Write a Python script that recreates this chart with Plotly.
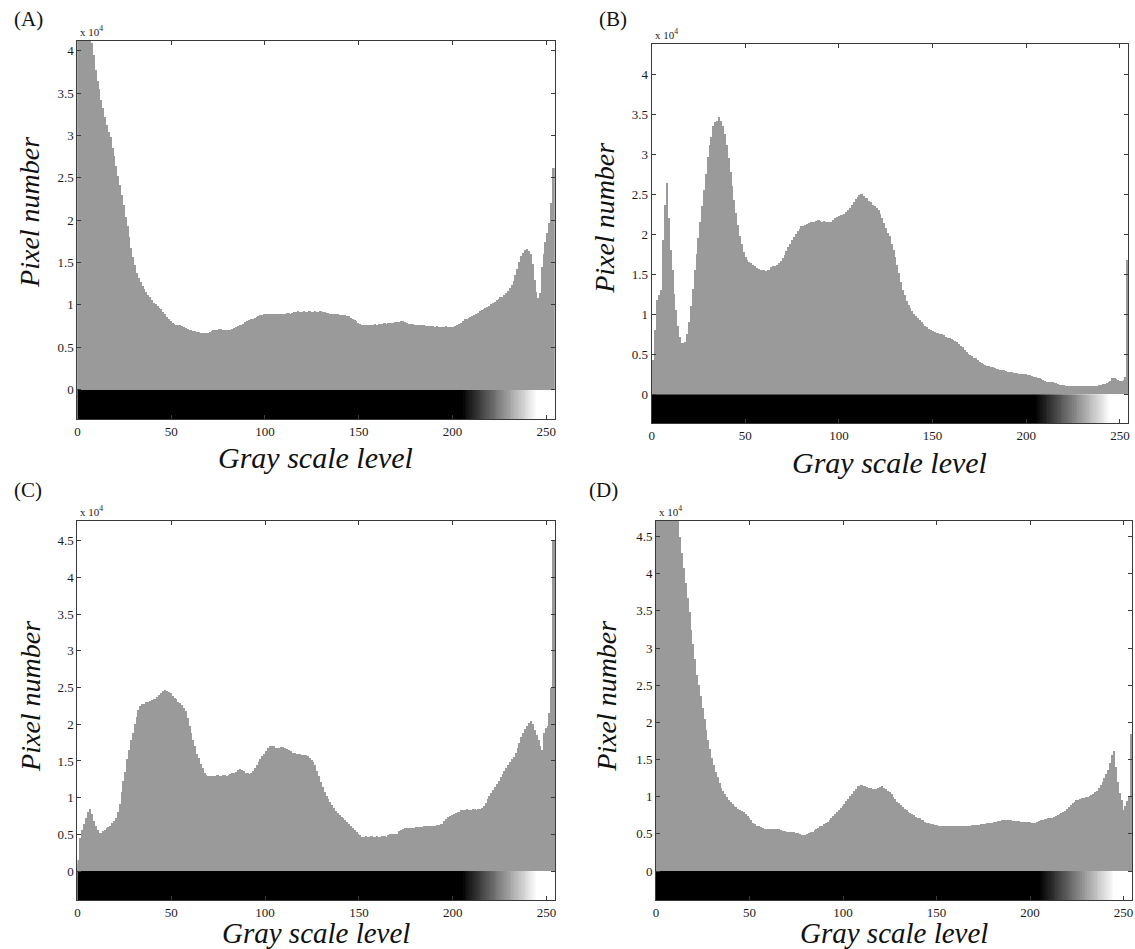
import plotly.graph_objects as go

W, H = 1135, 949

levels = list(range(256))

# Pixel counts (x 10^4) per gray level
counts_A = [
    4.60, 4.50, 4.50, 4.40, 4.40, 4.30, 4.25, 4.20, 4.10, 3.95, 3.78, 3.65, 3.55, 3.42, 3.33, 3.22,
    3.13, 3.05, 2.98, 2.86, 2.76, 2.64, 2.52, 2.42, 2.30, 2.18, 2.04, 1.93, 1.80, 1.68, 1.57, 1.47,
    1.38, 1.32, 1.27, 1.23, 1.19, 1.15, 1.12, 1.09, 1.06, 1.03, 1.01, 0.99, 0.97, 0.95, 0.92, 0.89,
    0.86, 0.83, 0.81, 0.79, 0.78, 0.77, 0.76, 0.76, 0.75, 0.74, 0.73, 0.72, 0.71, 0.70, 0.69, 0.69,
    0.68, 0.68, 0.67, 0.67, 0.67, 0.67, 0.67, 0.68, 0.69, 0.70, 0.70, 0.71, 0.72, 0.72, 0.71, 0.71,
    0.70, 0.70, 0.71, 0.72, 0.73, 0.74, 0.75, 0.76, 0.77, 0.78, 0.80, 0.81, 0.82, 0.83, 0.84, 0.85,
    0.86, 0.87, 0.88, 0.88, 0.89, 0.89, 0.89, 0.90, 0.89, 0.89, 0.90, 0.89, 0.89, 0.90, 0.90, 0.90,
    0.91, 0.91, 0.90, 0.91, 0.92, 0.92, 0.93, 0.92, 0.92, 0.93, 0.92, 0.92, 0.93, 0.92, 0.92, 0.93,
    0.92, 0.92, 0.93, 0.92, 0.92, 0.91, 0.91, 0.90, 0.90, 0.89, 0.89, 0.89, 0.88, 0.88, 0.88, 0.88,
    0.87, 0.87, 0.85, 0.84, 0.82, 0.81, 0.79, 0.78, 0.77, 0.77, 0.77, 0.77, 0.76, 0.77, 0.77, 0.78,
    0.77, 0.78, 0.78, 0.78, 0.79, 0.78, 0.79, 0.79, 0.79, 0.79, 0.80, 0.80, 0.80, 0.81, 0.81, 0.80,
    0.79, 0.78, 0.78, 0.78, 0.77, 0.77, 0.77, 0.76, 0.76, 0.76, 0.75, 0.75, 0.75, 0.75, 0.75, 0.74,
    0.75, 0.74, 0.74, 0.74, 0.74, 0.75, 0.74, 0.74, 0.74, 0.74, 0.75, 0.76, 0.78, 0.79, 0.81, 0.83,
    0.84, 0.85, 0.86, 0.87, 0.88, 0.90, 0.91, 0.93, 0.94, 0.95, 0.96, 0.98, 0.99, 1.01, 1.03, 1.04,
    1.06, 1.07, 1.09, 1.10, 1.12, 1.14, 1.17, 1.20, 1.24, 1.29, 1.36, 1.43, 1.51, 1.58, 1.62, 1.65,
    1.66, 1.64, 1.60, 1.48, 1.30, 1.15, 1.08, 1.14, 1.45, 1.60, 1.75, 1.85, 1.97, 2.20, 2.62, 2.62,
]

counts_B = [
    0.40, 0.43, 0.80, 1.18, 1.24, 1.30, 1.93, 2.37, 2.64, 2.20, 1.80, 1.55, 1.25, 1.05, 0.85, 0.72,
    0.64, 0.64, 0.66, 0.75, 0.90, 1.10, 1.32, 1.55, 1.75, 1.95, 2.15, 2.35, 2.55, 2.75, 2.97, 3.12,
    3.22, 3.35, 3.40, 3.42, 3.47, 3.42, 3.36, 3.26, 3.12, 2.95, 2.78, 2.60, 2.43, 2.27, 2.12, 1.98,
    1.88, 1.78, 1.72, 1.68, 1.66, 1.64, 1.62, 1.60, 1.58, 1.57, 1.56, 1.55, 1.55, 1.54, 1.55, 1.56,
    1.59, 1.60, 1.61, 1.62, 1.64, 1.67, 1.70, 1.74, 1.79, 1.84, 1.88, 1.93, 1.97, 2.01, 2.04, 2.07,
    2.10, 2.11, 2.12, 2.13, 2.14, 2.15, 2.16, 2.16, 2.17, 2.18, 2.17, 2.16, 2.17, 2.16, 2.15, 2.16,
    2.16, 2.18, 2.21, 2.22, 2.23, 2.24, 2.24, 2.26, 2.28, 2.30, 2.33, 2.37, 2.41, 2.44, 2.47, 2.49,
    2.50, 2.48, 2.46, 2.45, 2.42, 2.40, 2.37, 2.35, 2.33, 2.30, 2.25, 2.20, 2.14, 2.08, 2.02, 1.98,
    1.88, 1.80, 1.72, 1.62, 1.52, 1.40, 1.30, 1.24, 1.17, 1.12, 1.08, 1.04, 1.01, 0.98, 0.95, 0.93,
    0.90, 0.88, 0.86, 0.84, 0.82, 0.80, 0.79, 0.78, 0.77, 0.77, 0.76, 0.75, 0.74, 0.72, 0.71, 0.70,
    0.69, 0.68, 0.67, 0.65, 0.63, 0.61, 0.59, 0.56, 0.53, 0.51, 0.49, 0.48, 0.46, 0.45, 0.43, 0.41,
    0.39, 0.38, 0.37, 0.36, 0.35, 0.34, 0.34, 0.33, 0.32, 0.32, 0.31, 0.30, 0.30, 0.29, 0.28, 0.28,
    0.28, 0.27, 0.27, 0.27, 0.26, 0.26, 0.26, 0.25, 0.25, 0.24, 0.24, 0.23, 0.22, 0.22, 0.21, 0.20,
    0.19, 0.18, 0.17, 0.16, 0.16, 0.15, 0.15, 0.14, 0.14, 0.13, 0.12, 0.12, 0.12, 0.11, 0.11, 0.11,
    0.11, 0.11, 0.11, 0.10, 0.10, 0.10, 0.10, 0.10, 0.10, 0.10, 0.10, 0.11, 0.11, 0.11, 0.11, 0.12,
    0.12, 0.13, 0.13, 0.14, 0.15, 0.17, 0.20, 0.20, 0.19, 0.18, 0.17, 0.17, 0.18, 0.22, 1.68, 1.68,
]

counts_C = [
    0.10, 0.15, 0.45, 0.56, 0.64, 0.72, 0.80, 0.85, 0.78, 0.68, 0.62, 0.56, 0.52, 0.52, 0.54, 0.56,
    0.58, 0.60, 0.62, 0.65, 0.68, 0.72, 0.80, 0.92, 1.08, 1.22, 1.35, 1.52, 1.65, 1.78, 1.88, 2.00,
    2.10, 2.20, 2.25, 2.27, 2.28, 2.30, 2.31, 2.32, 2.33, 2.34, 2.35, 2.37, 2.40, 2.43, 2.45, 2.47,
    2.46, 2.44, 2.42, 2.38, 2.36, 2.34, 2.31, 2.29, 2.26, 2.22, 2.18, 2.08, 1.98, 1.88, 1.78, 1.70,
    1.60, 1.54, 1.46, 1.40, 1.34, 1.31, 1.30, 1.30, 1.29, 1.30, 1.30, 1.31, 1.30, 1.30, 1.31, 1.31,
    1.30, 1.31, 1.32, 1.33, 1.33, 1.35, 1.38, 1.39, 1.38, 1.36, 1.34, 1.33, 1.32, 1.33, 1.36, 1.40,
    1.44, 1.49, 1.53, 1.57, 1.60, 1.63, 1.67, 1.70, 1.71, 1.70, 1.68, 1.67, 1.68, 1.69, 1.69, 1.68,
    1.66, 1.65, 1.63, 1.61, 1.61, 1.60, 1.60, 1.59, 1.58, 1.58, 1.58, 1.57, 1.54, 1.51, 1.48, 1.44,
    1.36, 1.29, 1.21, 1.14, 1.08, 1.02, 0.98, 0.94, 0.90, 0.86, 0.82, 0.79, 0.77, 0.74, 0.72, 0.70,
    0.67, 0.64, 0.62, 0.59, 0.56, 0.53, 0.51, 0.49, 0.47, 0.47, 0.48, 0.47, 0.47, 0.48, 0.47, 0.47,
    0.48, 0.47, 0.47, 0.48, 0.48, 0.47, 0.49, 0.50, 0.50, 0.50, 0.50, 0.51, 0.54, 0.56, 0.57, 0.58,
    0.58, 0.58, 0.59, 0.59, 0.59, 0.60, 0.60, 0.60, 0.60, 0.61, 0.61, 0.61, 0.61, 0.62, 0.62, 0.62,
    0.63, 0.63, 0.64, 0.64, 0.68, 0.71, 0.73, 0.75, 0.76, 0.78, 0.79, 0.80, 0.81, 0.83, 0.83, 0.83,
    0.84, 0.83, 0.83, 0.84, 0.84, 0.83, 0.84, 0.84, 0.86, 0.88, 0.93, 0.98, 1.02, 1.07, 1.11, 1.15,
    1.19, 1.23, 1.28, 1.32, 1.36, 1.41, 1.44, 1.48, 1.52, 1.56, 1.61, 1.67, 1.74, 1.82, 1.88, 1.93,
    1.98, 2.02, 2.05, 2.00, 1.92, 1.86, 1.79, 1.70, 1.65, 1.88, 1.95, 1.98, 2.15, 2.50, 4.50, 4.50,
]

counts_D = [
    5.20, 5.10, 5.00, 5.00, 4.95, 4.90, 4.90, 4.85, 4.85, 4.80, 4.80, 4.78, 4.75, 4.50, 4.28, 4.08,
    3.88, 3.68, 3.48, 3.25, 3.05, 2.85, 2.64, 2.50, 2.36, 2.20, 2.05, 1.90, 1.76, 1.64, 1.52, 1.42,
    1.33, 1.26, 1.18, 1.12, 1.08, 1.03, 0.99, 0.96, 0.93, 0.90, 0.88, 0.86, 0.84, 0.82, 0.81, 0.79,
    0.77, 0.74, 0.71, 0.68, 0.65, 0.63, 0.61, 0.60, 0.59, 0.58, 0.57, 0.57, 0.57, 0.56, 0.56, 0.56,
    0.57, 0.57, 0.56, 0.55, 0.54, 0.54, 0.53, 0.53, 0.53, 0.52, 0.52, 0.51, 0.51, 0.50, 0.49, 0.49,
    0.49, 0.50, 0.51, 0.52, 0.53, 0.55, 0.56, 0.58, 0.60, 0.61, 0.63, 0.65, 0.66, 0.69, 0.71, 0.74,
    0.77, 0.79, 0.82, 0.85, 0.87, 0.90, 0.94, 0.97, 1.01, 1.04, 1.08, 1.11, 1.14, 1.15, 1.16, 1.15,
    1.14, 1.13, 1.12, 1.12, 1.11, 1.11, 1.11, 1.12, 1.13, 1.14, 1.12, 1.10, 1.08, 1.06, 1.03, 1.00,
    0.97, 0.93, 0.91, 0.89, 0.86, 0.84, 0.82, 0.80, 0.78, 0.77, 0.75, 0.73, 0.72, 0.71, 0.69, 0.68,
    0.66, 0.65, 0.64, 0.63, 0.63, 0.62, 0.62, 0.61, 0.61, 0.61, 0.60, 0.60, 0.60, 0.60, 0.60, 0.60,
    0.60, 0.60, 0.60, 0.61, 0.61, 0.61, 0.61, 0.61, 0.61, 0.62, 0.62, 0.62, 0.62, 0.62, 0.63, 0.63,
    0.63, 0.64, 0.64, 0.65, 0.65, 0.66, 0.66, 0.67, 0.67, 0.68, 0.68, 0.68, 0.68, 0.68, 0.68, 0.67,
    0.67, 0.67, 0.67, 0.66, 0.66, 0.66, 0.66, 0.66, 0.66, 0.65, 0.65, 0.65, 0.66, 0.67, 0.68, 0.69,
    0.70, 0.70, 0.71, 0.72, 0.72, 0.73, 0.74, 0.75, 0.77, 0.78, 0.80, 0.81, 0.83, 0.86, 0.89, 0.91,
    0.93, 0.95, 0.96, 0.97, 0.98, 0.98, 0.99, 1.00, 1.01, 1.02, 1.04, 1.06, 1.08, 1.12, 1.16, 1.20,
    1.25, 1.30, 1.36, 1.46, 1.56, 1.61, 1.40, 1.20, 1.05, 0.95, 0.82, 0.88, 0.94, 1.00, 1.85, 1.85,
]

panel_labels = ["(A)", "(B)", "(C)", "(D)"]
x_ticks = [0, 50, 100, 150, 200, 250]
y_ticks_A = [0, 0.5, 1, 1.5, 2, 2.5, 3, 3.5, 4]
y_ticks_B = [0, 0.5, 1, 1.5, 2, 2.5, 3, 3.5, 4]
y_ticks_C = [0, 0.5, 1, 1.5, 2, 2.5, 3, 3.5, 4, 4.5]
y_ticks_D = [0, 0.5, 1, 1.5, 2, 2.5, 3, 3.5, 4, 4.5]

# Gray-scale colour bar stops (gray level, shade)
bar_stops = [(0, 0.0), (205, 0.0), (245, 1.0), (255, 1.0)]

# layout geometry in page pixels: (left, right, top, bottom), y range
panels = [
    dict(counts=counts_A, box=(74.7, 553.7, 40.7, 419.0), yr=(-0.35, 4.12), yt=y_ticks_A,
         lab=(9, 19), exp=(75, 31), ylab=(27, 212), xlab=(314, 457)),
    dict(counts=counts_B, box=(651.0, 1129.3, 44.0, 423.3), yr=(-0.3625, 4.38), yt=y_ticks_B,
         lab=(596, 19), exp=(652, 34), ylab=(604, 218), xlab=(890, 462)),
    dict(counts=counts_C, box=(74.7, 554.0, 521.0, 900.0), yr=(-0.395, 4.77), yt=y_ticks_C,
         lab=(9, 490), exp=(75, 511), ylab=(27, 696), xlab=(314, 933)),
    dict(counts=counts_D, box=(655.3, 1133.0, 521.0, 900.0), yr=(-0.39, 4.71), yt=y_ticks_D,
         lab=(586, 490), exp=(656, 511), ylab=(605, 696), xlab=(894, 933)),
]


def px(x):
    return x / W


def py(y):
    return 1 - y / H


SERIF = "Liberation Serif"
colorscale = [[s / 255.0, f"rgb({int(v*255)},{int(v*255)},{int(v*255)})"] for s, v in bar_stops]

fig = go.Figure()
annotations = []
layout_axes = {}

for i, p in enumerate(panels):
    n = "" if i == 0 else str(i + 1)
    xa, ya = "x" + n, "y" + n
    l, r, t, b = p["box"]
    fig.add_trace(go.Heatmap(
        x=[v - 0.5 for v in levels] + [255.5], y=[p["yr"][0], 0],
        z=[levels], zmin=0, zmax=255, colorscale=colorscale, showscale=False,
        xaxis=xa, yaxis=ya, hoverinfo="skip"))
    fig.add_trace(go.Bar(
        x=levels, y=p["counts"], width=1.0, marker=dict(color="#9a9a9a", line=dict(width=0)),
        xaxis=xa, yaxis=ya, showlegend=False))
    common = dict(showline=True, linecolor="#3a3a3a", linewidth=1, mirror="ticks",
                  ticks="inside", ticklen=4, tickcolor="#3a3a3a", showgrid=False, zeroline=False,
                  tickfont=dict(family=SERIF, size=13, color="#1a1a1a"))
    layout_axes["xaxis" + n] = dict(common, domain=[px(l), min(px(r), 1.0)], range=[0, 254.5],
                                    tickvals=x_ticks, anchor=ya, ticklabelstandoff=0)
    layout_axes["yaxis" + n] = dict(common, domain=[py(b), py(t)], range=list(p["yr"]),
                                    tickvals=p["yt"], anchor=xa)
    annotations += [
        dict(text=panel_labels[i], x=px(p["lab"][0]), y=py(p["lab"][1]), xref="paper", yref="paper",
             xanchor="left", yanchor="middle", showarrow=False, font=dict(family=SERIF, size=21, color="#111")),
        dict(text="x 10<sup>4</sup>", x=px(p["exp"][0]), y=py(p["exp"][1]), xref="paper", yref="paper",
             xanchor="left", yanchor="middle", showarrow=False, font=dict(family=SERIF, size=11, color="#222")),
        dict(text="<i>Pixel number</i>", x=px(p["ylab"][0]), y=py(p["ylab"][1]), xref="paper", yref="paper",
             xanchor="center", yanchor="middle", textangle=-90, showarrow=False,
             font=dict(family=SERIF, size=28, color="#111")),
        dict(text="<i>Gray scale level</i>", x=px(p["xlab"][0]), y=py(p["xlab"][1]), xref="paper", yref="paper",
             xanchor="center", yanchor="middle", showarrow=False,
             font=dict(family=SERIF, size=30 if i < 2 else 29, color="#111")),
    ]

fig.update_layout(
    width=W, height=H, margin=dict(l=0, r=0, t=0, b=0),
    paper_bgcolor="white", plot_bgcolor="white", showlegend=False,
    bargap=0, annotations=annotations, **layout_axes)

fig.write_html("out.html", config={"displayModeBar": False},
               post_script="document.body.style.margin='0';document.body.style.overflow='hidden';")
